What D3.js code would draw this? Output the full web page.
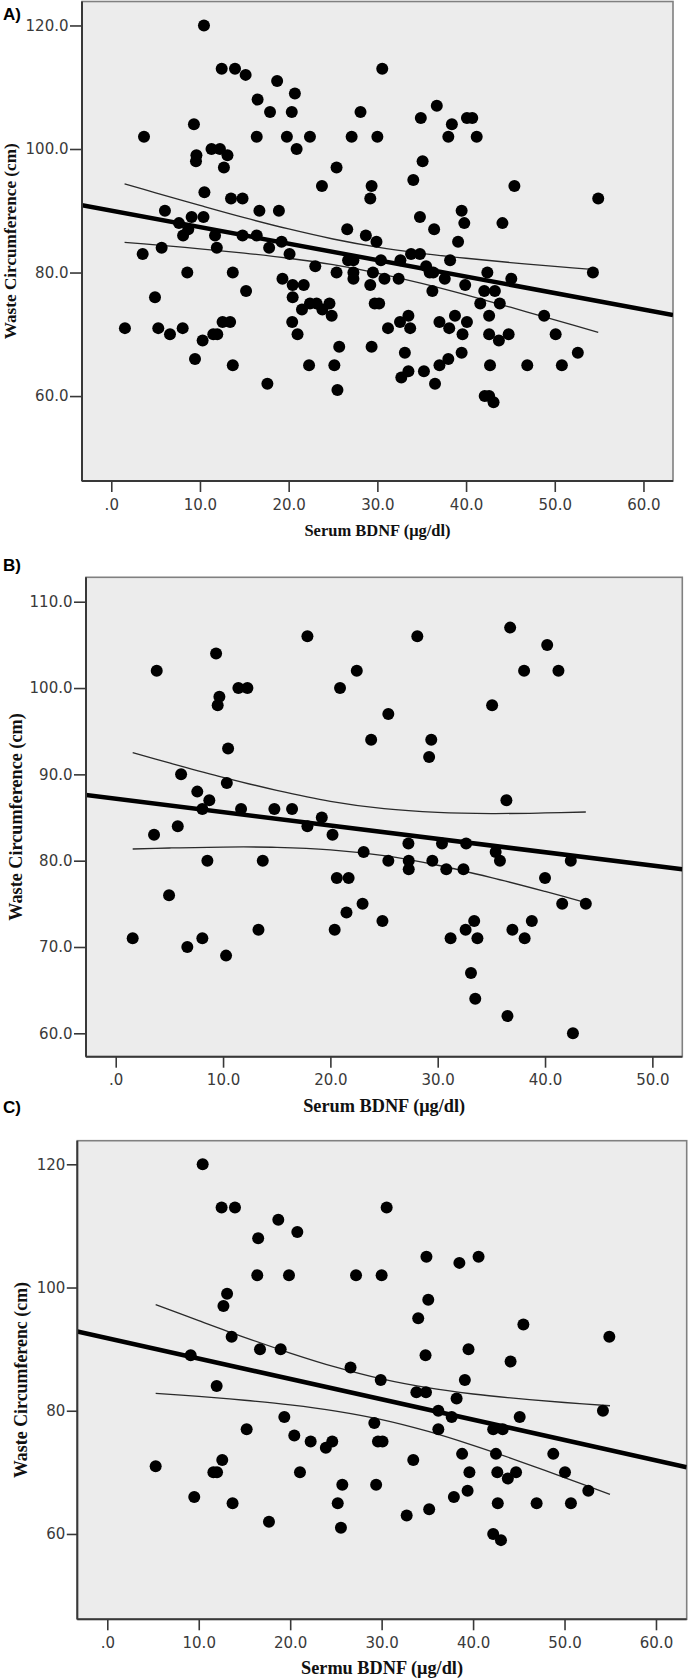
<!DOCTYPE html>
<html><head><meta charset="utf-8">
<script src="https://cdn.jsdelivr.net/npm/d3@7"></script>
<style>
body{margin:0;background:#fff;}
svg{display:block;}
</style></head><body>
<svg id="chart" width="688" height="1680"></svg>
<script>
// ---------- DATA (Serum BDNF, Waist circumference) ----------
const pointsA = [
[10.45,120],[12.45,113],[13.95,113],[15.15,112],[18.7,111],[20.7,109],[16.5,108],[17.9,106],[20.35,106],[3.69,102],[16.4,102],[19.8,102],[22.4,102],[27.1,102],[9.32,104],[11.3,100],[12.25,100],[20.9,100],[9.6,99],[13.1,99],[9.55,98],[12.7,97],[25.4,97],[23.75,94],[10.5,93],[13.5,92],[14.8,92],[6.05,90],[16.7,90],[18.9,90],[9.06,89],[10.4,89],[7.63,88],[26.6,87],[8.68,87],[8.1,86],[11.7,86],[14.8,86],[16.4,86],[19.2,85],[5.68,84],[11.9,84],[17.8,84],[20.1,83],[3.54,83],[23.0,81],[26.7,82],[8.57,80],[13.7,80],[25.4,80],[19.3,79],[20.45,78],[21.7,78],[15.2,77],[4.93,76],[20.45,76],
[21.5,74],[22.4,75],[23.15,75],[23.8,74],[24.6,75],[24.85,73],[1.54,71],[5.3,71],[8.05,71],[6.62,70],[11.5,70],[11.95,70],[21.0,70],[10.3,69],[12.55,72],[13.4,72],[20.4,72],[25.7,68],[9.44,66],[13.7,65],[22.3,65],[25.15,65],[17.6,62],[25.5,61],
[30.55,113],[28.1,106],[36.7,107],[34.9,105],[38.4,104],[40.1,105],[40.7,105],[30.0,102],[38.0,102],[41.2,102],[35.1,98],[34.05,95],[29.35,94],[29.2,92],[45.45,94],[54.9,92],[39.5,90],[39.8,88],[44.1,88],[34.8,89],[36.4,87],[28.7,86],[29.9,85],[39.1,85],[33.8,83],[34.8,83],[27.3,82],[30.4,82],[32.6,82],[38.2,82],[35.5,81],[27.3,80],[29.5,80],[35.9,80],[36.3,80],[42.4,80],[54.3,80],[27.3,79],[30.8,79],[32.4,79],[37.6,79],[45.1,79],[29.2,78],[39.9,78],[36.2,77],[42.05,77],[43.25,77],
[29.7,75],[30.2,75],[41.6,75],[43.8,75],[33.5,73],[38.75,73],[42.6,73],[48.8,73],[32.55,72],[37.0,72],[40.1,72],[31.2,71],[33.7,71],[38.1,71],[39.6,70],[42.6,70],[44.8,70],[43.7,69],[50.1,70],[29.35,68],[33.1,67],[39.5,67],[52.6,67],[37.0,65],[38.0,66],[42.7,65],[46.9,65],[50.8,65],[33.5,64],[32.7,63],[35.25,64],[36.5,62],[42.1,60],[42.6,60],[43.1,59]
];
const pointsB = [
[3.82,102],[9.35,104],[17.86,106],[20.9,100],[11.43,100],[12.27,100],[9.66,99],[9.5,98],[10.47,93],[6.09,90],[10.35,89],[7.6,88],[8.72,87],[8.07,86],[11.68,86],[14.78,86],[16.43,86],[19.2,85],[17.86,84],[5.78,84],[3.57,83],[20.2,83],
[28.1,106],[36.75,107],[40.2,105],[38.05,102],[41.25,102],[22.46,102],[25.4,97],[23.8,94],[29.4,94],[29.2,92],[35.07,98],[36.4,87],
[8.54,80],[13.7,80],[4.97,76],[20.6,78],[21.7,78],[21.5,74],[1.58,71],[8.07,71],[13.3,72],[20.4,72],[6.67,70],[10.28,69],
[23.1,81],[27.27,82],[30.4,82],[32.65,82],[35.4,81],[35.8,80],[42.4,80],[25.4,80],[27.3,80],[27.3,79],[29.5,80],[30.8,79],[32.4,79],[40.0,78],[41.6,75],[43.8,75],[23.0,75],[24.85,73],[33.4,73],[32.6,72],[38.77,73],[36.96,72],[31.2,71],[33.7,71],[38.1,71],[33.1,67],[33.5,64],[36.5,62],[42.6,60]
];
const pointsC = [
[10.43,120],[12.5,113],[13.96,113],[18.7,111],[20.78,109],[16.5,108],[16.4,102],[19.87,102],[27.2,102],[13.1,99],[12.7,97],[13.6,92],[16.7,90],[18.96,90],[9.12,89],[26.6,87],[11.96,84],
[30.55,113],[34.9,105],[38.5,104],[40.6,105],[30.0,102],[35.1,98],[34.0,95],[45.5,94],[54.9,92],[39.5,90],[34.8,89],[44.1,88],[29.9,85],[39.1,85],[33.8,83],[34.85,83],[38.2,82],
[19.36,79],[15.24,77],[20.45,76],[22.24,75],[23.9,74],[24.6,75],[5.29,71],[12.57,72],[11.6,70],[12.0,70],[21.07,70],[25.7,68],[9.51,66],[13.7,65],[25.2,65],[17.68,62],[25.55,61],
[36.2,80],[37.66,79],[45.1,79],[54.2,80],[36.2,77],[42.2,77],[43.24,77],[29.2,78],[29.6,75],[30.1,75],[33.46,72],[38.8,73],[42.5,73],[48.77,73],[39.6,70],[42.65,70],[44.7,70],[43.8,69],[50.05,70],[29.4,68],[39.4,67],[52.6,67],[37.9,66],[42.7,65],[46.95,65],[50.7,65],[32.74,63],[35.2,64],[42.2,60],[43.05,59]
];

// fit lines: [intercept, slope]
const fitA = [90.02, -0.267];
const fitB = [87.17, -0.1548];
const fitC = [91.77, -0.3304];

// 95% CI of the mean
const ciUpperA = [[1.5,94.35],[5,92.90],[10,90.86],[15,88.88],[20,87.05],[25,85.43],[30,84.11],[35,83.11],[40,82.31],[45,81.62],[50,81.00],[54.9,80.42]];
const ciLowerA = [[1.5,84.89],[5,84.48],[10,83.84],[15,83.14],[20,82.31],[25,81.27],[30,79.91],[35,78.23],[40,76.37],[45,74.38],[50,72.34],[54.9,70.30]];
const ciUpperB = [[1.58,92.51],[5,91.33],[10,89.66],[15,88.15],[20,86.88],[25,86.02],[30,85.59],[35,85.46],[40,85.53],[43.8,85.64]];
const ciLowerB = [[1.58,81.35],[5,81.47],[10,81.58],[15,81.55],[20,81.26],[25,80.58],[30,79.47],[35,78.04],[40,76.43],[43.8,75.14]];
const ciUpperC = [[5.29,97.22],[10,94.62],[15,91.92],[20,89.37],[25,87.07],[30,85.16],[35,83.74],[40,82.72],[45,81.96],[50,81.34],[54.97,80.81]];
const ciLowerC = [[5.29,82.82],[10,82.32],[15,81.70],[20,80.95],[25,79.95],[30,78.56],[35,76.68],[40,74.38],[45,71.84],[50,69.16],[54.97,66.41]];

// ticks
const xTicksA = [0,10,20,30,40,50,60];
const xTickLabelsA = [".0","10.0","20.0","30.0","40.0","50.0","60.0"];
const yTicksA = [60,80,100,120];
const yTickLabelsA = ["60.0","80.0","100.0","120.0"];
const xTicksB = [0,10,20,30,40,50];
const xTickLabelsB = [".0","10.0","20.0","30.0","40.0","50.0"];
const yTicksB = [60,70,80,90,100,110];
const yTickLabelsB = ["60.0","70.0","80.0","90.0","100.0","110.0"];
const xTicksC = [0,10,20,30,40,50,60];
const xTickLabelsC = [".0","10.0","20.0","30.0","40.0","50.0","60.0"];
const yTicksC = [60,80,100,120];
const yTickLabelsC = ["60","80","100","120"];

const panelLetters = ["A)","B)","C)"];
const xTitles = ["Serum BDNF (\u03bcg/dl)","Serum BDNF (\u03bcg/dl)","Sermu BDNF (\u03bcg/dl)"];
const yTitles = ["Waste Circumference (cm)","Waste Circumference (cm)","Waste Circumferenc (cm)"];

// ---------- LAYOUT ----------
const layouts = [
  {frame:{l:82,t:1.5,r:673,b:481}, xDom:[-3.30,63.33], yDom:[46.25,123.88],
   letterY:20, xTitleY:536, xTitleSize:16.5, yTitleX:16, yTitleSize:17.2, yTick:12},
  {frame:{l:86,t:577.3,r:682.3,b:1056.7}, xDom:[-2.77,52.79], yDom:[57.29,112.83],
   letterY:571, xTitleY:1112, xTitleSize:18.3, yTitleX:22, yTitleSize:18.2, yTick:12},
  {frame:{l:77.3,t:1140.7,r:686.7,b:1619.3}, xDom:[-3.28,63.36], yDom:[46.15,123.83],
   letterY:1113, xTitleY:1674, xTitleSize:18.3, yTitleX:26.5, yTitleSize:17.9, yTick:10.5}
];

const panels = [
  {pts:pointsA, fit:fitA, ciU:ciUpperA, ciL:ciLowerA, xt:xTicksA, xl:xTickLabelsA, yt:yTicksA, yl:yTickLabelsA},
  {pts:pointsB, fit:fitB, ciU:ciUpperB, ciL:ciLowerB, xt:xTicksB, xl:xTickLabelsB, yt:yTicksB, yl:yTickLabelsB},
  {pts:pointsC, fit:fitC, ciU:ciUpperC, ciL:ciLowerC, xt:xTicksC, xl:xTickLabelsC, yt:yTicksC, yl:yTickLabelsC}
];

const svg = d3.select("#chart");
const tickFont = "'DejaVu Sans', Verdana, sans-serif";
const serif = "'Liberation Serif', 'Times New Roman', serif";

panels.forEach((p, i) => {
  const L = layouts[i], f = L.frame;
  const g = svg.append("g");
  const x = d3.scaleLinear().domain(L.xDom).range([f.l, f.r]);
  const y = d3.scaleLinear().domain(L.yDom).range([f.b, f.t]);

  g.append("rect").attr("x", f.l).attr("y", f.t)
    .attr("width", f.r - f.l).attr("height", f.b - f.t)
    .attr("fill", "#ececec").attr("stroke", "#808080").attr("stroke-width", 1.6);

  const clipId = "clip" + i;
  svg.append("clipPath").attr("id", clipId).append("rect")
    .attr("x", f.l).attr("y", f.t).attr("width", f.r - f.l).attr("height", f.b - f.t);

  const plot = g.append("g").attr("clip-path", `url(#${clipId})`);

  const line = d3.line().x(d => x(d[0])).y(d => y(d[1])).curve(d3.curveCatmullRom);
  [p.ciU, p.ciL].forEach(c => {
    plot.append("path").attr("d", line(c)).attr("fill", "none")
      .attr("stroke", "#2a2a2a").attr("stroke-width", 1.3);
  });

  const x0 = L.xDom[0], x1 = L.xDom[1];
  plot.append("line")
    .attr("x1", x(x0)).attr("y1", y(p.fit[0] + p.fit[1] * x0))
    .attr("x2", x(x1)).attr("y2", y(p.fit[0] + p.fit[1] * x1))
    .attr("stroke", "#000").attr("stroke-width", 4.5);

  plot.selectAll("circle").data(p.pts).join("circle")
    .attr("cx", d => x(d[0])).attr("cy", d => y(d[1])).attr("r", 6).attr("fill", "#000");

  // axis lines (left & bottom darker)
  g.append("line").attr("x1", f.l).attr("x2", f.l).attr("y1", f.t).attr("y2", f.b)
    .attr("stroke", "#383838").attr("stroke-width", 2);
  g.append("line").attr("x1", f.l).attr("x2", f.r).attr("y1", f.b).attr("y2", f.b)
    .attr("stroke", "#383838").attr("stroke-width", 2);

  const xa = d3.axisBottom(x).tickValues(p.xt).tickFormat((d, k) => p.xl[k])
    .tickSize(11).tickPadding(7).tickSizeOuter(0);
  const gx = g.append("g").attr("transform", `translate(0,${f.b})`).call(xa);
  gx.select(".domain").remove();
  gx.attr("font-family", tickFont).attr("font-size", 15);
  gx.selectAll(".tick line").attr("stroke", "#383838").attr("stroke-width", 1.6);
  gx.selectAll(".tick text").attr("fill", "#3a3a3a");

  const ya = d3.axisLeft(y).tickValues(p.yt).tickFormat((d, k) => p.yl[k])
    .tickSize(L.yTick).tickPadding(1.5).tickSizeOuter(0);
  const gy = g.append("g").attr("transform", `translate(${f.l},0)`).call(ya);
  gy.select(".domain").remove();
  gy.attr("font-family", tickFont).attr("font-size", 15);
  gy.selectAll(".tick line").attr("stroke", "#383838").attr("stroke-width", 1.6);
  gy.selectAll(".tick text").attr("fill", "#3a3a3a");

  g.append("text").attr("x", (f.l + f.r) / 2).attr("y", L.xTitleY)
    .attr("text-anchor", "middle").attr("font-family", serif).attr("font-weight", "bold")
    .attr("font-size", L.xTitleSize).attr("fill", "#111").text(xTitles[i]);

  g.append("text")
    .attr("transform", `translate(${L.yTitleX},${(f.t + f.b) / 2}) rotate(-90)`)
    .attr("text-anchor", "middle").attr("font-family", serif).attr("font-weight", "bold")
    .attr("font-size", L.yTitleSize).attr("fill", "#111").text(yTitles[i]);

  g.append("text").attr("x", 3).attr("y", L.letterY)
    .attr("font-family", "'Liberation Sans', Arial, sans-serif").attr("font-weight", "bold")
    .attr("font-size", 17).attr("fill", "#000").text(panelLetters[i]);
});
</script>
</body></html>
